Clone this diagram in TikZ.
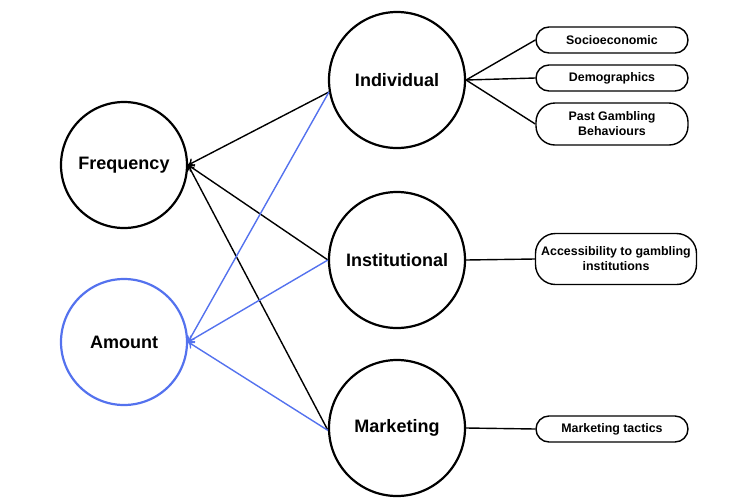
\documentclass[tikz,border=0pt]{standalone}
\usepackage{fontspec}
\setmainfont{Liberation Sans}
\usetikzlibrary{arrows.meta}
\definecolor{amtblue}{RGB}{84,114,238}
\begin{document}
\begin{tikzpicture}[
  x=1pt, y=-1pt,
  >={To[length=6pt,width=9pt]},
  factor/.style={draw, circle, line width=2.2pt, inner sep=0pt,
              minimum size=136pt, font=\bfseries\fontsize{18}{21}\selectfont},
  outcome/.style={factor, minimum size=126pt},
  item/.style={draw, rounded corners=13pt, align=center, line width=1.4pt,
              minimum width=152pt, minimum height=26pt, inner sep=1pt,
              font=\bfseries\fontsize{12.4}{15}\selectfont},
  link/.style={line width=1.4pt}
]
\useasboundingbox (0,0) rectangle (729,499);

\node[outcome] (freq) at (124,165) {Frequency};
\node[outcome, draw=amtblue] (amount) at (124,342) {Amount};

\node[factor] (indiv) at (397,80)  {Individual};
\node[factor] (inst)  at (397,260) {Institutional};
\node[factor] (mark)  at (397,428) {Marketing};

\node[item] (socio) at (612,40)  {Socioeconomic};
\node[item] (demo)  at (612,78)  {Demographics};
\node[item, rounded corners=19pt, minimum height=42pt] (past) at (612,124) {Past Gambling\\Behaviours};
\node[item, rounded corners=20pt, minimum width=161pt, minimum height=51pt, inner sep=0pt] (access) at (616,259) {Accessibility to gambling\\institutions};
\node[item] (tactics) at (612,429) {Marketing tactics};

% factors -> frequency
\draw[link, ->] (indiv.190) -- (freq.east);
\draw[link, ->] (inst.west) -- (freq.east);
\draw[link, ->] (mark.182) -- (freq.east);

% factors -> amount
\draw[link, amtblue, ->] (indiv.190) -- (amount.east);
\draw[link, amtblue, ->] (inst.west) -- (amount.east);
\draw[link, amtblue, ->] (mark.182) -- (amount.east);

% factor details
\draw[link] (indiv.east) -- (socio.west);
\draw[link] (indiv.east) -- (demo.west);
\draw[link] (indiv.east) -- (past.west);
\draw[link] (inst.east) -- (access.west);
\draw[link] (mark.east) -- (tactics.west);
\end{tikzpicture}
\end{document}
